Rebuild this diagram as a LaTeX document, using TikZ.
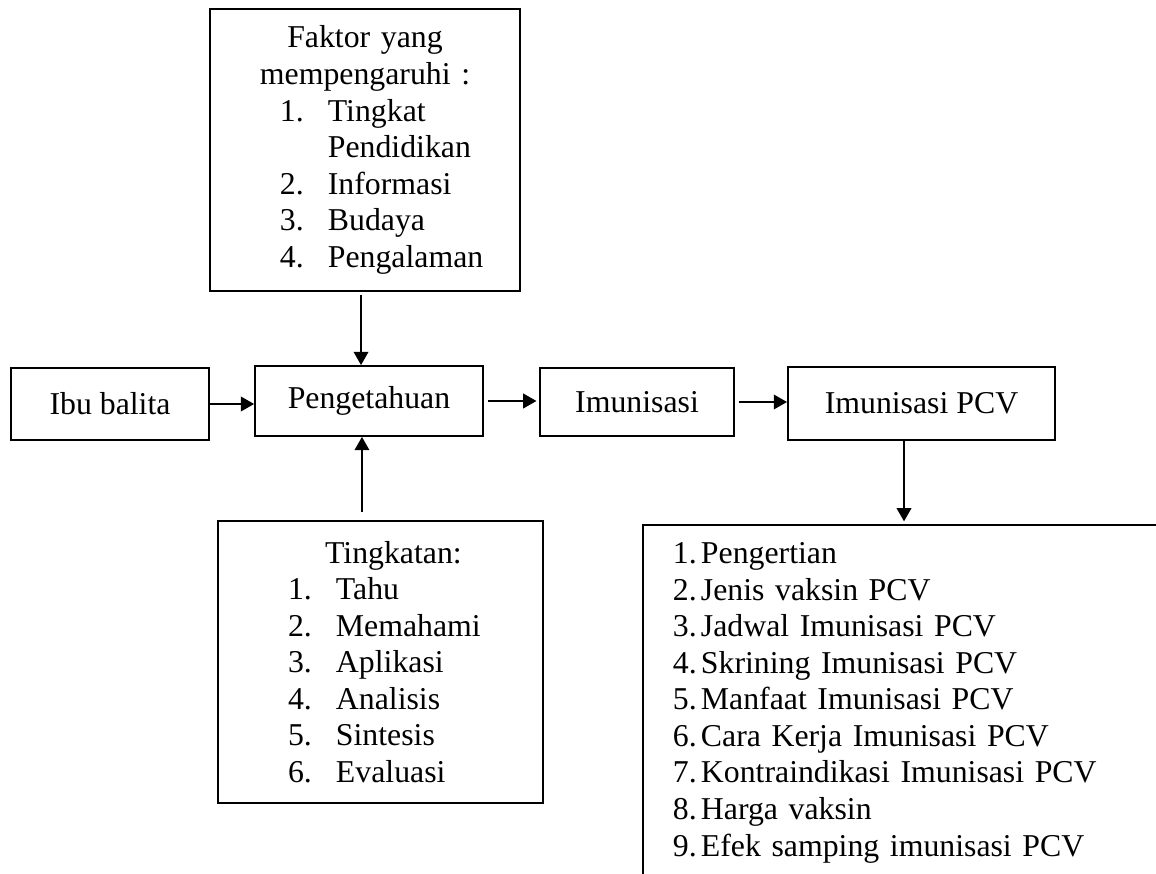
\documentclass[tikz,border=0pt]{standalone}
\usepackage{fontspec}
\setmainfont{Liberation Serif}
\usepackage{tikz}
\usetikzlibrary{calc}
\usetikzlibrary{arrows.meta}

\begin{document}
\begin{tikzpicture} [x=0.3774pt, y=-0.3774pt, font=\fontsize{12}{13.8}\selectfont,
  box/.style={draw, line width=0.7pt, rectangle, inner sep=0pt, align=center},
  panah/.style={line width=0.7pt, -{Triangle[length=5pt,width=5.5pt]}}]
\useasboundingbox (0,0) rectangle (1156,874);

\node[box, minimum width=117pt, minimum height=106.4pt, text width=117pt, align=left] (faktor) at (365,150) {
{\centering Faktor yang\\ mempengaruhi :\par}
\hspace*{26.4pt}\makebox[18.1pt][l]{1.}Tingkat\\
\hspace*{44.5pt}Pendidikan\\
\hspace*{26.4pt}\makebox[18.1pt][l]{2.}Informasi\\
\hspace*{26.4pt}\makebox[18.1pt][l]{3.}Budaya\\
\hspace*{26.4pt}\makebox[18.1pt][l]{4.}Pengalaman\par\vspace*{6.8pt}};

\node[box, minimum width=74.7pt, minimum height=27.2pt] (ibu) at (110,404) {Ibu balita};
\node[box, minimum width=86pt, minimum height=26.4pt] (peng) at (369,401) {Pengetahuan};
\node[box, minimum width=73.2pt, minimum height=25.7pt] (imun) at (637,402) {Imunisasi};
\node[box, minimum width=100.8pt, minimum height=27.5pt] (pcv) at (921.5,403.5) {Imunisasi PCV};

\node[box, minimum width=122.6pt, minimum height=106.4pt, text width=122.6pt, align=left] (tingkatan) at (380.5,662) {
\hspace*{40.4pt}Tingkatan:\\
\hspace*{26.4pt}\makebox[18.1pt][l]{1.}Tahu\\
\hspace*{26.4pt}\makebox[18.1pt][l]{2.}Memahami\\
\hspace*{26.4pt}\makebox[18.1pt][l]{3.}Aplikasi\\
\hspace*{26.4pt}\makebox[18.1pt][l]{4.}Analisis\\
\hspace*{26.4pt}\makebox[18.1pt][l]{5.}Sintesis\\
\hspace*{26.4pt}\makebox[18.1pt][l]{6.}Evaluasi};

\node[box, anchor=north west, text width=204pt, inner ysep=6.6pt, align=left] (daftar) at (642,524) {
\hspace*{11.3pt}\makebox[10.6pt][l]{1.}Pengertian\\
\hspace*{11.3pt}\makebox[10.6pt][l]{2.}Jenis vaksin PCV\\
\hspace*{11.3pt}\makebox[10.6pt][l]{3.}Jadwal Imunisasi PCV\\
\hspace*{11.3pt}\makebox[10.6pt][l]{4.}Skrining Imunisasi PCV\\
\hspace*{11.3pt}\makebox[10.6pt][l]{5.}Manfaat Imunisasi PCV\\
\hspace*{11.3pt}\makebox[10.6pt][l]{6.}Cara Kerja Imunisasi PCV\\
\hspace*{11.3pt}\makebox[10.6pt][l]{7.}Kontraindikasi Imunisasi PCV\\
\hspace*{11.3pt}\makebox[10.6pt][l]{8.}Harga vaksin\\
\hspace*{11.3pt}\makebox[10.6pt][l]{9.}Efek samping imunisasi PCV\par\vspace*{20pt}};

\draw[panah] (ibu.east) -- (ibu.east -| peng.west);
\draw[panah, shorten <=1.5pt, shorten >=1pt] (peng.east) -- (peng.east -| imun.west);
\draw[panah, shorten <=1.5pt] (imun.east) -- (imun.east -| pcv.west);
\draw[panah, shorten <=1pt] ([xshift=-1.5pt]faktor.south) -- ([xshift=-1.5pt]faktor.south |- peng.north);
\draw[panah, shorten <=3pt] ([xshift=-7pt]tingkatan.north) -- ([xshift=-7pt]tingkatan.north |- peng.south);
\draw[panah, shorten >=1pt] ([xshift=-6.6pt]pcv.south) -- ([xshift=-6.6pt]pcv.south |- daftar.north);
\end{tikzpicture}
\end{document}
